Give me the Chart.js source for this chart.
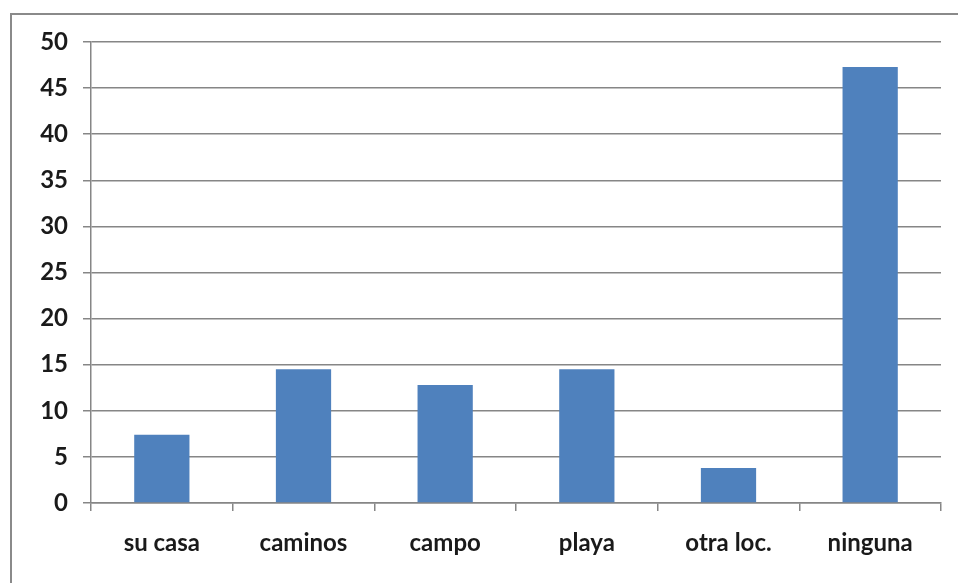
<!DOCTYPE html>
<html>
<head>
<meta charset="utf-8">
<script src="https://cdn.jsdelivr.net/npm/chart.js@4/dist/chart.umd.min.js"></script>
<style>
  html, body { margin: 0; padding: 0; background: #fff; }
  #wrap { position: relative; width: 958px; height: 583px; overflow: hidden; }
  #frame { position: absolute; left: 10px; top: 13px; width: 1000px; height: 700px;
           border: 2px solid #8a8a8a; box-sizing: border-box; }
  canvas { position: absolute; left: 0; top: 0; }
</style>
</head>
<body>
<div id="wrap">
  <div id="frame"></div>
  <canvas id="c" width="958" height="583"></canvas>
</div>
<script>
const categories = ['su casa', 'caminos', 'campo', 'playa', 'otra loc.', 'ninguna'];
const values = [7.4, 14.5, 12.8, 14.5, 3.8, 47.3];
const yTicks = [0, 5, 10, 15, 20, 25, 30, 35, 40, 45, 50];

const axisGrey = '#868686';
const labelFont = { family: 'Lato', size: 24, weight: 'bold' };

new Chart(document.getElementById('c'), {
  type: 'bar',
  data: {
    labels: categories,
    datasets: [{
      data: values,
      backgroundColor: '#4f81bd',
      borderWidth: 0,
      categoryPercentage: 1,
      barPercentage: 0.39
    }]
  },
  options: {
    responsive: false,
    animation: false,
    events: [],
    layout: { padding: { top: 42, right: 17, bottom: 0, left: 0 } },
    plugins: { legend: { display: false }, tooltip: { enabled: false } },
    scales: {
      x: {
        offset: true,
        grid: { offset: true, drawOnChartArea: false, drawTicks: true, tickLength: 8, color: axisGrey, lineWidth: 1.5 },
        border: { color: axisGrey, width: 1.5 },
        ticks: { color: '#1a1a1a', font: labelFont, padding: 18, maxRotation: 0 },
        afterFit: s => { s.height = 80; }
      },
      y: {
        min: 0, max: 50,
        afterBuildTicks: s => { s.ticks = yTicks.map(v => ({ value: v })); },
        grid: { drawTicks: true, tickLength: 8, color: axisGrey, lineWidth: 1.5 },
        border: { color: axisGrey, width: 1.5 },
        ticks: { color: '#1a1a1a', font: labelFont, padding: 15 },
        afterFit: s => { s.width = 91; }
      }
    }
  }
});
</script>
</body>
</html>
